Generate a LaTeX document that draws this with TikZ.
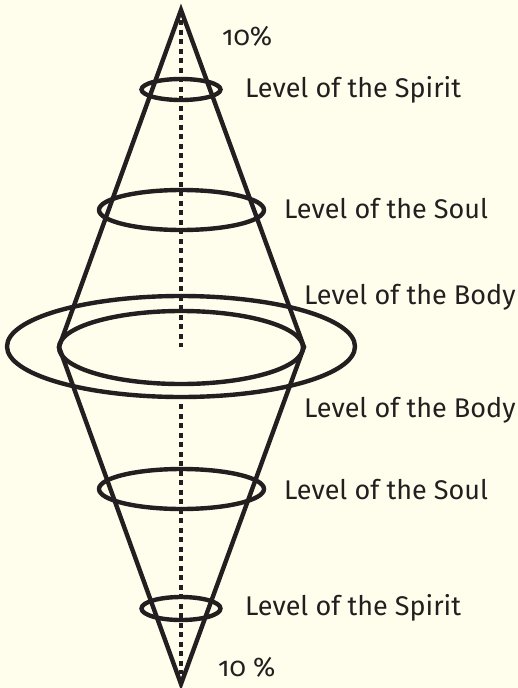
\documentclass[tikz,border=0pt]{standalone}
\usepackage{fontspec}
\setmainfont{Fira Sans}[Numbers=OldStyle]
\usetikzlibrary{positioning}
\definecolor{cream}{RGB}{255,253,235}
\definecolor{ink}{RGB}{35,31,32}

\begin{document}
\begin{tikzpicture}[x=1pt, y=-1pt,
  cone/.style={draw=ink, line width=4.4pt, line join=miter},
  ring/.style={draw=ink, line width=4.4pt},
  axis/.style={draw=ink, line width=4.4pt, dash pattern=on 5pt off 4.5pt},
  level/.style={anchor=west, inner sep=0pt, text=ink,
    font=\fontsize{27}{32}\selectfont}]
  \fill[cream] (0,0) rectangle (518,688);
  \useasboundingbox (0,0) rectangle (518,688);
  % cone corners
  \coordinate (top) at (181,10);
  \coordinate (bot) at (181,684);
  \coordinate (rimL) at (59,347);
  \coordinate (rimR) at (304,347);
  \coordinate (mid) at (181,347);
  % centre line
  \coordinate (axisA) at (181,20);
  \coordinate (axisB) at (181,404);
  \coordinate (axisC) at (181,674);
  \draw[axis] (axisA) -- (mid);
  \draw[axis] (axisB) -- (axisC);
  \draw[cone] (rimL) -- (top) -- (rimR) -- (bot) -- cycle;
  % rings
  \draw[ring] (181,89.5) ellipse [x radius=39.5, y radius=10.5];
  \draw[ring] (181.5,210) ellipse [x radius=82.5, y radius=20];
  \draw[ring] (181,346.5) ellipse [x radius=174, y radius=50.5];
  \draw[ring] (181,347.5) ellipse [x radius=122, y radius=36.5];
  \draw[ring] (181.5,489) ellipse [x radius=82.5, y radius=20];
  \draw[ring] (181,608.5) ellipse [x radius=39.5, y radius=11.5];
  % labels
  \node[level] (pctTop) at (222,36) {10\%};
  \node[level] (spiritTop) at (245,90) {Level of the Spirit};
  \node[level] (soulTop) at (284,209) {Level of the Soul};
  \node[level] (bodyTop) at (304,297) {Level of the Body};
  \node[level] (bodyBot) at (304,410) {Level of the Body};
  \node[level] (soulBot) at (284,490) {Level of the Soul};
  \node[level] (spiritBot) at (245,608) {Level of the Spirit};
  \node[level] (pctBot) at (218,667) {10 \%};
\end{tikzpicture}
\end{document}
